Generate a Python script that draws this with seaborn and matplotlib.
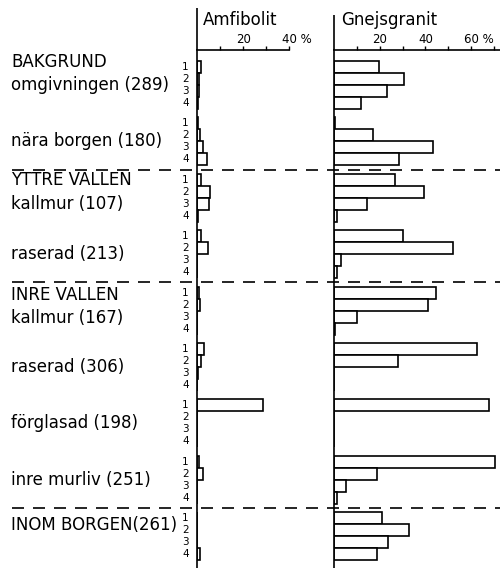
import matplotlib
matplotlib.use("Agg")
import matplotlib.pyplot as plt
import matplotlib.transforms as mtransforms
import numpy as np
import pandas as pd
import seaborn as sns

# ---------------- data ----------------
groups = ["omgivningen", "nära borgen", "yttre kallmur", "yttre raserad",
          "inre kallmur", "inre raserad", "förglasad", "inre murliv", "inom borgen"]
group_labels = [
    ("BAKGRUND", "omgivningen (289)"),
    (None, "nära borgen (180)"),
    ("YTTRE VALLEN", "kallmur (107)"),
    (None, "raserad (213)"),
    ("INRE VALLEN", "kallmur (167)"),
    (None, "raserad (306)"),
    (None, "förglasad (198)"),
    (None, "inre murliv (251)"),
    ("INOM BORGEN(261)", None),
]
classes = ["1", "2", "3", "4"]

amfibolit = [
    [1.6, 1.0, 0.8, 0.4],
    [0.3, 1.3, 2.7, 4.3],
    [1.7, 5.7, 5.2, 0.3],
    [1.9, 4.8, 0.0, 0.0],
    [1.0, 1.4, 0.0, 0.0],
    [3.0, 1.8, 0.4, 0.0],
    [28.7, 0.0, 0.0, 0.0],
    [1.0, 2.6, 0.0, 0.0],
    [0.0, 0.0, 0.0, 1.3],
]
gnejsgranit = [
    [19.8, 30.8, 23.0, 11.8],
    [0.5, 16.9, 43.5, 28.3],
    [26.7, 39.2, 14.4, 1.2],
    [30.0, 52.0, 3.0, 1.2],
    [44.6, 41.3, 10.0, 0.3],
    [62.6, 28.0, 0.2, 0.2],
    [67.8, 0.0, 0.0, 0.0],
    [70.4, 18.8, 5.1, 1.2],
    [21.1, 32.7, 23.8, 18.8],
]
panel_titles = ["Amfibolit", "Gnejsgranit"]
am_ticks = [10, 20, 30, 40]
am_ticklabels = ["", "20", "", "40 %"]
gn_ticks = [10, 20, 30, 40, 50, 60, 70]
gn_ticklabels = ["", "20", "", "40", "", "60 %", ""]
separators_after = [1, 3, 7]   # dashed line after these group indices

# ---------------- layout ----------------
STEP = 4.7          # group step in bar slots
head_off = [-0.45, 0, 0.05, 0, 0.2, 0, 0, 0, 0.6]
sub_off = [1.5, 1.5, 2.0, 1.5, 2.1, 1.5, 1.5, 1.5, 1.5]

rows = []
for g, name in enumerate(groups):
    for i, c in enumerate(classes):
        rows.append({"group": name, "cls": c, "pos": round(g * STEP + i, 2),
                     "Amfibolit": amfibolit[g][i], "Gnejsgranit": gnejsgranit[g][i]})
df = pd.DataFrame(rows)

sns.set_theme(style="white")
plt.rcParams["font.family"] = ["DejaVu Sans"]

W, H = 500, 568
fig = plt.figure(figsize=(W / 100, H / 100), dpi=100)

ax_top_px = 50
ylim_top = -0.5 - (61 - ax_top_px) / 12.0
ylim_bot = -0.5 + (H - 61) / 12.0

def make_ax(left_px, right_px, xmax, ext_px):
    ax = fig.add_axes([left_px / W, 0, (right_px - left_px) / W, (H - ax_top_px) / H])
    ax.set_xlim(0, xmax)
    ax.set_ylim(ylim_bot, ylim_top)
    for s in ["bottom", "right"]:
        ax.spines[s].set_visible(False)
    for s in ["top", "left"]:
        ax.spines[s].set_color("black")
        ax.spines[s].set_linewidth(1.2)
    ax.set_facecolor("none")
    ext = ext_px / (H - ax_top_px)
    ax.plot([0, 0], [1, 1 + ext], transform=ax.transAxes, color="black",
            lw=1.2, clip_on=False, solid_capstyle="butt")
    return ax

ax1 = make_ax(197, 289.4, 40, 42)
ax2 = make_ax(334, 500, 166 / 2.285, 35)

for ax, col in [(ax1, "Amfibolit"), (ax2, "Gnejsgranit")]:
    sns.barplot(data=df, x=col, y="pos", orient="y", native_scale=True, width=1,
                color="white", edgecolor="black", linewidth=1.2, errorbar=None,
                ax=ax, saturation=1)
    ax.set_ylim(ylim_bot, ylim_top)
    ax.set_xlabel("")
    ax.set_ylabel("")
    ax.xaxis.tick_top()
    ax.tick_params(axis="x", direction="out", length=3, width=1.0, colors="black",
                   labelsize=8.5, pad=0)
    ax.tick_params(axis="y", left=False, labelleft=False)

ax1.set_xticks(am_ticks)
ax1.set_xticklabels(am_ticklabels)
ax2.set_xticks(gn_ticks)
ax2.set_xticklabels(gn_ticklabels)
offset = mtransforms.ScaledTranslation(-7.5 / 100, 0, fig.dpi_scale_trans)
for ax in (ax1, ax2):
    for lab in ax.get_xticklabels():
        if "%" in lab.get_text():
            lab.set_ha("left")
            lab.set_transform(lab.get_transform() + offset)

ax1.text(6 / 92.4, 1 + 30 / 518, panel_titles[0], transform=ax1.transAxes,
         fontsize=12, ha="left", va="center", color="black")
ax2.text(7 / 166, 1 + 30 / 518, panel_titles[1], transform=ax2.transAxes,
         fontsize=12, ha="left", va="center", color="black")

# class numbers 1-4 next to the Amfibolit axis
tr_num = mtransforms.blended_transform_factory(fig.transFigure, ax1.transData)
for g in range(len(groups)):
    for i, c in enumerate(classes):
        ax1.text(185.5 / W, g * STEP + i, c, transform=tr_num, fontsize=7.5,
                 ha="center", va="center", color="black")

# group labels
FS = 12
for g, (head, sub) in enumerate(group_labels):
    base = g * STEP
    if head is not None:
        ax1.text(11 / W, base + head_off[g], head, transform=tr_num, fontsize=FS,
                 ha="left", va="center", color="black")
    if sub is not None:
        ax1.text(11 / W, base + sub_off[g], sub, transform=tr_num, fontsize=FS,
                 ha="left", va="center", color="black")

# dashed separators across the whole figure
lw = 1.2
for g in separators_after:
    y = g * STEP + 3.5 + (STEP - 4) / 2
    ax1.plot([12 / W, 1], [y, y], transform=tr_num, color="black", lw=lw,
             linestyle=(0, (12 * 0.72 / lw, 9 * 0.72 / lw)), clip_on=False)

fig.savefig("out.png", dpi=100)
